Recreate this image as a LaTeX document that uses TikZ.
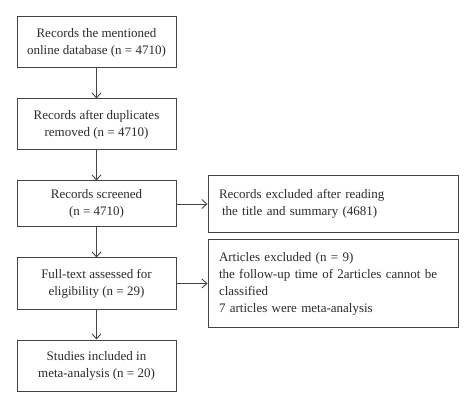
\documentclass[tikz,border=0pt]{standalone}
\usepackage{fontspec}
\setmainfont{Liberation Serif}
\usetikzlibrary{positioning,arrows.meta}

\definecolor{linegray}{HTML}{444444}
\definecolor{textgray}{HTML}{2A2A2A}

\begin{document}
\begin{tikzpicture}[
    node distance=30pt,
    block/.style={rectangle, draw=linegray, line width=1pt, text=textgray,
        minimum width=159pt, minimum height=51pt, align=center, inner sep=2pt,
        font=\fontsize{13}{17}\selectfont},
    sideblock/.style={block, minimum width=250pt, align=left, text width=228pt},
    arrow/.style={draw=linegray, line width=0.9pt, -{Straight Barb[length=5pt,width=9pt]}}
]
    \useasboundingbox (0,0) rectangle (474pt,-406pt);

    \node[block] (database) at (96.5pt,-42.5pt) {Records the mentioned\\online database (n = 4710)};
    \node[block, below=of database] (duplicates) {Records after duplicates\\removed (n = 4710)};
    \node[block, below=of duplicates, minimum height=46pt] (screened) {Records screened\\(n = 4710)};
    \node[block, below=of screened] (fulltext) {Full-text assessed for\\eligibility (n = 29)};
    \node[block, below=of fulltext] (included) {Studies included in\\meta-analysis (n = 20)};

    \node[sideblock, right=31pt of screened, minimum height=57pt] (excluded) {Records excluded after reading\\\hspace*{3pt}the title and summary (4681)};
    \node[sideblock, right=31pt of fulltext, minimum height=88pt] (articles) {Articles excluded (n = 9)\\the follow-up time of 2articles cannot be\\classified\\7 articles were meta-analysis};

    \draw[arrow] (database) -- (duplicates);
    \draw[arrow] (duplicates) -- (screened);
    \draw[arrow] (screened) -- (fulltext);
    \draw[arrow] (fulltext) -- (included);
    \draw[arrow] (screened) -- (excluded);
    \draw[arrow] (fulltext) -- (articles);
\end{tikzpicture}
\end{document}
